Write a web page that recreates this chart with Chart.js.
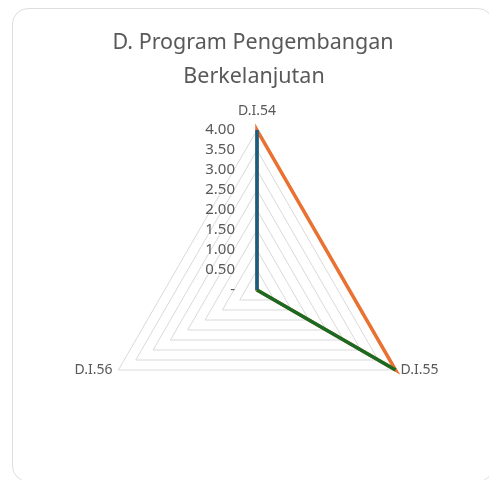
<!DOCTYPE html>
<html>
<head>
<meta charset="utf-8">
<script src="https://cdn.jsdelivr.net/npm/chart.js@4"></script>
<style>
  html, body { margin: 0; padding: 0; background: #fff; overflow: hidden; }
  #card {
    position: absolute; left: 12px; top: 8px; width: 482px; height: 474px;
    border: 1px solid #dedede; border-radius: 16px; box-sizing: border-box;
  }
  #myChart { position: absolute; left: 0; top: 0; }
</style>
</head>
<body>
<div id="card"></div>
<canvas id="myChart" width="489" height="480"></canvas>
<script>
// Dados do gráfico
const categorias = ['D.I.54', 'D.I.55', 'D.I.56'];
const serieAzul = [4, 0, 0];
const serieLaranja = [4, 4, 0];
const serieVerde = [0, 4, 0];
const rotulosEixo = ['-', '0.50', '1.00', '1.50', '2.00', '2.50', '3.00', '3.50', '4.00'];
const tituloLinhas = ['D. Program Pengembangan', 'Berkelanjutan'];

const corTexto = '#595959';
const fonte = '"Noto Sans", "Open Sans", sans-serif';

// Plugin que desenha título, rótulos dos pontos e das marcas
const textos = {
  id: 'textos',
  afterDraw(chart) {
    const ctx = chart.ctx;
    const r = chart.scales.r;
    ctx.save();
    ctx.fillStyle = corTexto;

    // título
    ctx.font = '21.5px ' + fonte;
    ctx.textAlign = 'center';
    ctx.textBaseline = 'alphabetic';
    ctx.fillText(tituloLinhas[0], 253, 49);
    ctx.fillText(tituloLinhas[1], 254, 83);

    // rótulos das marcas (à esquerda do eixo vertical)
    ctx.font = '15px ' + fonte;
    ctx.textAlign = 'right';
    ctx.textBaseline = 'middle';
    r.ticks.forEach((t, i) => {
      const y = r.yCenter - r.getDistanceFromCenterForValue(t.value);
      ctx.fillText(rotulosEixo[i], r.xCenter - 22, y);
    });

    // rótulos das categorias
    ctx.font = '14px ' + fonte;
    categorias.forEach((c, i) => {
      const p = r.getPointPosition(i, r.drawingArea);
      if (i === 0) {
        ctx.textAlign = 'center';
        ctx.textBaseline = 'bottom';
        ctx.fillText(c, p.x, p.y - 12);
      } else if (p.x > r.xCenter) {
        ctx.textAlign = 'left';
        ctx.textBaseline = 'middle';
        ctx.fillText(c, p.x + 5, p.y);
      } else {
        ctx.textAlign = 'right';
        ctx.textBaseline = 'middle';
        ctx.fillText(c, p.x - 6, p.y);
      }
    });
    ctx.restore();
  }
};

new Chart(document.getElementById('myChart'), {
  type: 'radar',
  data: {
    labels: categorias,
    datasets: [
      { label: 'Seri 1', data: serieAzul, borderColor: '#156082', order: 1 },
      { label: 'Seri 2', data: serieLaranja, borderColor: '#E97132', order: 2 },
      { label: 'Seri 3', data: serieVerde, borderColor: '#196B24', order: 0 }
    ]
  },
  options: {
    responsive: false,
    animation: false,
    layout: { padding: { left: 97, right: 72, top: 130, bottom: 30 } },
    elements: {
      line: { borderWidth: 3.5, fill: false, tension: 0, borderJoinStyle: 'miter' },
      point: { radius: 0, hoverRadius: 0 }
    },
    plugins: {
      legend: { display: false },
      title: { display: false },
      tooltip: { enabled: false }
    },
    scales: {
      r: {
        min: 0,
        max: 4,
        ticks: { display: false, stepSize: 0.5 },
        pointLabels: { display: false },
        angleLines: { display: false },
        grid: { color: '#d9d9d9', lineWidth: 1 }
      }
    }
  },
  plugins: [textos]
});
</script>
</body>
</html>
